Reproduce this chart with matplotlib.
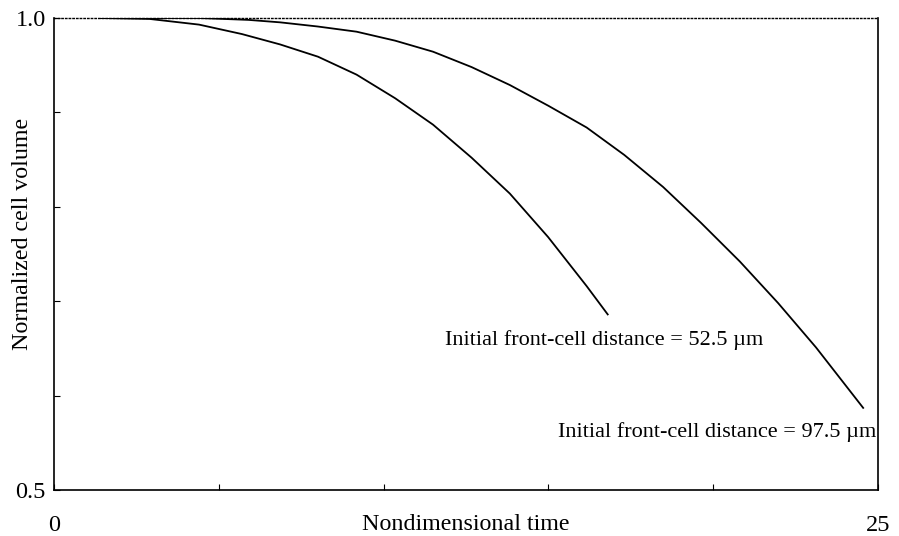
import matplotlib.pyplot as plt

plt.rcParams['font.family'] = ['Liberation Serif', 'DejaVu Serif']

# Cell volume decay for two initial front-cell distances
time_52 = [1.4, 2.9, 4.4, 5.7, 6.86, 8.01, 9.18, 10.35, 11.5, 12.67, 13.83, 14.99, 16.16, 16.8]
volume_52 = [1.0, 0.999, 0.993, 0.983, 0.972, 0.959, 0.940, 0.915, 0.887, 0.852,
             0.814, 0.768, 0.716, 0.686]

time_97 = [1.4, 4.4, 5.9, 6.86, 8.0, 9.18, 10.35, 11.5, 12.67, 13.83, 15.0, 16.16,
           17.3, 18.48, 19.63, 20.81, 21.97, 23.12, 24.55]
volume_97 = [1.0, 1.0, 0.998, 0.9954, 0.991, 0.9855, 0.976, 0.9643, 0.948, 0.929,
             0.907, 0.884, 0.855, 0.821, 0.783, 0.742, 0.698, 0.651, 0.587]

label_52 = "Initial front-cell distance = 52.5 \u00b5m"
label_97 = "Initial front-cell distance = 97.5 \u00b5m"

x_ticks = [0, 5, 10, 15, 20, 25]
x_tick_labels = ['0', '', '', '', '', '25']
y_ticks = [0.5, 0.6, 0.7, 0.8, 0.9, 1.0]
y_tick_labels = ['0.5', '', '', '', '', '1.0']

fig = plt.figure(figsize=(8.99, 5.36), dpi=100)
ax = fig.add_axes([54 / 899, 46 / 536, 824 / 899, 472 / 536])

ax.plot(time_52, volume_52, color='black', lw=1.3)
ax.plot(time_97, volume_97, color='black', lw=1.3)

ax.text(11.86, 0.659, label_52, fontsize=16, ha='left', va='center')
ax.text(24.95, 0.561, label_97, fontsize=16, ha='right', va='center')

ax.set_xlim(0, 25)
ax.set_ylim(0.5, 1.0)

ax.set_xticks(x_ticks)
ax.set_xticklabels(x_tick_labels)
ax.set_yticks(y_ticks)
ax.set_yticklabels(y_tick_labels)
ax.tick_params(axis='both', direction='in', length=4, width=0.8, labelsize=17.5)
ax.tick_params(axis='x', pad=18)
ax.tick_params(axis='y', pad=6)

for side in ['left', 'bottom', 'right']:
    ax.spines[side].set_linewidth(1.2)
ax.spines['top'].set_linestyle(':')
ax.spines['top'].set_linewidth(1.0)

ax.set_xlabel("Nondimensional time", fontsize=17.3)
ax.xaxis.set_label_coords(0.5, -0.051)
ax.set_ylabel("Normalized cell volume", fontsize=17.3)
ax.yaxis.set_label_coords(-0.026, 0.542)

fig.savefig("out.png", dpi=100)
